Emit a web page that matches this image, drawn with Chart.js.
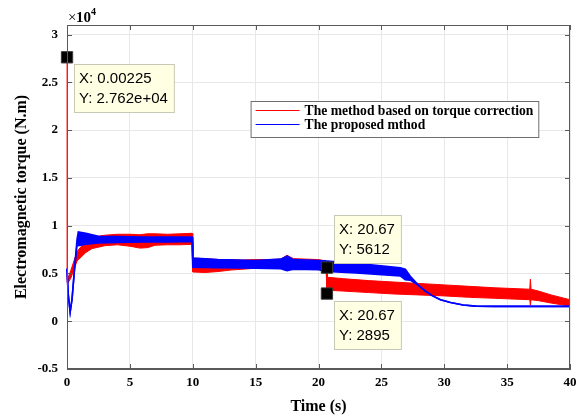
<!DOCTYPE html>
<html>
<head>
<meta charset="utf-8">
<title>Electromagnetic torque</title>
<script src="https://cdn.jsdelivr.net/npm/chart.js@4.4.0/dist/chart.umd.min.js"></script>
<style>
    html, body { margin: 0; padding: 0; background: #fff; }
    #wrap { width: 584px; height: 417px; }
</style>
</head>
<body>
<div id="wrap"><canvas id="myChart" width="584" height="417"></canvas></div>
<script>
// Data (torque in N.m, time in s)
// the signals are very noisy, so each one is kept as an upper and lower edge of its band
var redTime  = [0, 0.00225, 0.04, 0.3, 0.8, 1.5, 2, 3, 4, 5, 5.8, 6.4, 7, 8, 9, 9.95, 10.0, 11, 12, 13, 14, 15, 16, 17, 17.5, 18, 19, 20, 20.6, 20.67, 20.72, 22, 24, 26, 28, 30, 32, 34, 36.8, 36.85, 36.9, 37.5, 38.5, 40];
var redUpper = [4000, 27620, 4300, 5300, 7300, 8400, 8800, 9000, 9100, 9100, 9050, 9150, 9150, 9100, 9150, 9200, 6600, 6550, 6450, 6450, 6400, 6450, 6450, 6500, 6900, 6550, 6500, 6450, 6300, 6100, 4600, 4450, 4250, 4100, 3950, 3800, 3650, 3500, 3350, 4400, 3350, 3150, 2750, 2250];
var redLower = [3800, 3800, 3900, 4500, 6300, 7200, 7600, 7900, 8000, 7850, 7650, 7700, 7950, 8000, 8000, 8050, 5150, 5100, 5200, 5350, 5450, 5550, 5600, 5650, 5650, 5600, 5650, 5700, 5700, 2895, 3250, 3150, 3000, 2850, 2750, 2650, 2500, 2400, 2250, 1680, 2250, 2150, 1900, 1580];

var blueTime  = [0, 0.1, 0.25, 0.4, 0.6, 0.8, 0.9, 1.5, 2.5, 4, 6, 8, 9.95, 10.0, 12, 15, 17, 17.5, 18, 20, 20.67, 23, 26.5, 26.9, 27.3, 28, 28.5, 29, 29.7, 30.5, 31.5, 32.5, 34, 40];
var blueUpper = [5500, 2800, 950, 2300, 5500, 8600, 9350, 9200, 8900, 8850, 8800, 8800, 8800, 6600, 6450, 6350, 6500, 6800, 6450, 6350, 6300, 6050, 5600, 5450, 4700, 3700, 3150, 2700, 2250, 1950, 1700, 1580, 1550, 1550];
var blueLower = [5500, 2800, 950, 2300, 5500, 8000, 7900, 8050, 8200, 8250, 8300, 8300, 8350, 5650, 5600, 5550, 5500, 5300, 5450, 5400, 5200, 5050, 4750, 4350, 4300, 3700, 3150, 2700, 2250, 1950, 1700, 1580, 1550, 1550];

var seriesNames = ['The method based on torque correction', 'The proposed mthod'];

// data tips
var tipTime  = [0.00225, 20.67, 20.67];
var tipValue = [27620, 5612, 2895];
var tipTextX = ['X: 0.00225', 'X: 20.67', 'X: 20.67'];
var tipTextY = ['Y: 2.762e+04', 'Y: 5612', 'Y: 2895'];
var tipSide  = ['below', 'above', 'below'];

var xTicks = [0, 5, 10, 15, 20, 25, 30, 35, 40];
var yTicks = [-5000, 0, 5000, 10000, 15000, 20000, 25000, 30000];

var RED = '#ff0000';
var BLUE = '#0000ff';
var SERIF = '"Liberation Serif", "Times New Roman", serif';
var SANS = '"Liberation Sans", Arial, sans-serif';

function toPoints(t, v) {
    var pts = [];
    for (var i = 0; i < t.length; i++) pts.push({x: t[i], y: v[i]});
    return pts;
}

// matlab-like extras: full box, inward ticks, x10^4, legend box, data tips
var decor = {
    id: 'decor',
    afterDraw: function (chart) {
        var ctx = chart.ctx, a = chart.chartArea;
        var xs = chart.scales.x, ys = chart.scales.y;
        ctx.save();

        ctx.strokeStyle = '#5a5a5a';
        ctx.lineWidth = 1;
        ctx.strokeRect(a.left + 0.5, a.top + 0.5, a.right - a.left - 1, a.bottom - a.top - 1);

        ctx.beginPath();
        xTicks.forEach(function (v) {
            var px = Math.round(xs.getPixelForValue(v)) + 0.5;
            ctx.moveTo(px, a.bottom); ctx.lineTo(px, a.bottom - 5);
            ctx.moveTo(px, a.top); ctx.lineTo(px, a.top + 5);
        });
        yTicks.forEach(function (v) {
            var py = Math.round(ys.getPixelForValue(v)) + 0.5;
            ctx.moveTo(a.left, py); ctx.lineTo(a.left + 5, py);
            ctx.moveTo(a.right, py); ctx.lineTo(a.right - 5, py);
        });
        ctx.stroke();

        // exponent label
        ctx.fillStyle = '#000';
        ctx.textBaseline = 'alphabetic';
        ctx.textAlign = 'left';
        ctx.font = '15px ' + SERIF;
        ctx.fillText('\u00d7', a.left + 1, 22);
        ctx.font = 'bold 15px ' + SERIF;
        ctx.fillText('10', a.left + 9, 22);
        ctx.font = 'bold 10px ' + SERIF;
        ctx.fillText('4', a.left + 24, 15);

        // legend
        var lx = xs.getPixelForValue(14.6), ly = 101;
        ctx.font = 'bold 13.6px ' + SERIF;
        var lw = 54 + ctx.measureText(seriesNames[0]).width + 5;
        ctx.fillStyle = '#fff';
        ctx.fillRect(lx, ly, lw, 36);
        ctx.strokeStyle = '#6e6e6e';
        ctx.strokeRect(lx + 0.5, ly + 0.5, lw, 36);
        [RED, BLUE].forEach(function (c, i) {
            var yy = ly + 9.5 + i * 14;
            ctx.strokeStyle = c;
            ctx.lineWidth = 1.2;
            ctx.beginPath();
            ctx.moveTo(lx + 5, yy); ctx.lineTo(lx + 49, yy);
            ctx.stroke();
            ctx.fillStyle = '#000';
            ctx.textBaseline = 'middle';
            ctx.fillText(seriesNames[i], lx + 54, yy + 1);
        });

        // data tip boxes
        ctx.font = '15px ' + SANS;
        ctx.lineWidth = 1;
        for (var i = 0; i < tipTime.length; i++) {
            var px = xs.getPixelForValue(tipTime[i]);
            var py = ys.getPixelForValue(tipValue[i]);
            var w = Math.max(ctx.measureText(tipTextX[i]).width, ctx.measureText(tipTextY[i]).width) + 11;
            var h = 48;
            var bx = Math.round(px + 7), by = Math.round(tipSide[i] == 'below' ? py + 7 : py - 5 - h);
            ctx.fillStyle = '#ffffe4';
            ctx.fillRect(bx, by, w, h);
            ctx.strokeStyle = '#c8c8b4';
            ctx.strokeRect(bx + 0.5, by + 0.5, w, h);
            ctx.fillStyle = '#000';
            ctx.textBaseline = 'middle';
            ctx.fillText(tipTextX[i], bx + 5, by + 15);
            ctx.fillText(tipTextY[i], bx + 5, by + 35);
        }
        ctx.restore();
    }
};

var ctx = document.getElementById('myChart').getContext('2d');
var chart = new Chart(ctx, {
    type: 'line',
    data: {
        datasets: [
            {   // 0: red lower edge
                label: seriesNames[0] + ' low',
                data: toPoints(redTime, redLower),
                borderColor: RED, borderWidth: 1, pointRadius: 0, fill: false, order: 4, clip: false
            },
            {   // 1: red upper edge, filled down to 0
                label: seriesNames[0],
                data: toPoints(redTime, redUpper),
                borderColor: RED, borderWidth: 1, pointRadius: 0,
                backgroundColor: RED, fill: 0, order: 3, clip: false
            },
            {   // 2: blue lower edge
                label: seriesNames[1] + ' low',
                data: toPoints(blueTime, blueLower),
                borderColor: BLUE, borderWidth: 1.6, pointRadius: 0, fill: false, order: 2, clip: false
            },
            {   // 3: blue upper edge, filled down to 2
                label: seriesNames[1],
                data: toPoints(blueTime, blueUpper),
                borderColor: BLUE, borderWidth: 1.6, pointRadius: 0,
                backgroundColor: BLUE, fill: 2, order: 1, clip: false
            },
            {   // 4: data tip markers
                type: 'scatter',
                label: 'tips',
                data: toPoints(tipTime, tipValue),
                pointStyle: 'rect', pointRadius: 8,
                backgroundColor: '#000', borderColor: '#3a3a3a', borderWidth: 1,
                showLine: false, order: 0, clip: false
            }
        ]
    },
    options: {
        responsive: false,
        animation: false,
        devicePixelRatio: 1,
        layout: { padding: { left: 0, top: 25, right: 14, bottom: 0 } },
        plugins: {
            legend: { display: false },
            tooltip: { enabled: false }
        },
        elements: { line: { tension: 0 } },
        scales: {
            x: {
                type: 'linear', min: 0, max: 40,
                afterBuildTicks: function (s) { s.ticks = xTicks.map(function (v) { return {value: v}; }); },
                afterFit: function (s) { s.height = 48; },
                ticks: {
                    color: '#000', padding: 6, maxRotation: 0,
                    font: { family: SERIF, size: 13, weight: 'bold' }
                },
                grid: { color: '#e8e8e8', drawTicks: false },
                border: { color: '#5a5a5a' },
                title: {
                    display: true, text: 'Time (s)', color: '#000',
                    font: { family: SERIF, size: 16, weight: 'bold' },
                    padding: { top: 0, bottom: 1 }
                }
            },
            y: {
                type: 'linear', min: -5000, max: 31000,
                afterBuildTicks: function (s) { s.ticks = yTicks.map(function (v) { return {value: v}; }); },
                afterFit: function (s) { s.width = 67; },
                ticks: {
                    color: '#000', padding: 9,
                    font: { family: SERIF, size: 13, weight: 'bold' },
                    callback: function (v) { return String(v / 10000); }
                },
                grid: { color: '#e8e8e8', drawTicks: false },
                border: { color: '#5a5a5a' },
                title: {
                    display: true, text: 'Electromagnetic torque (N.m)', color: '#000',
                    font: { family: SERIF, size: 16, weight: 'bold' },
                    padding: { top: 12, bottom: 0 }
                }
            }
        }
    },
    plugins: [decor]
});
</script>
</body>
</html>
